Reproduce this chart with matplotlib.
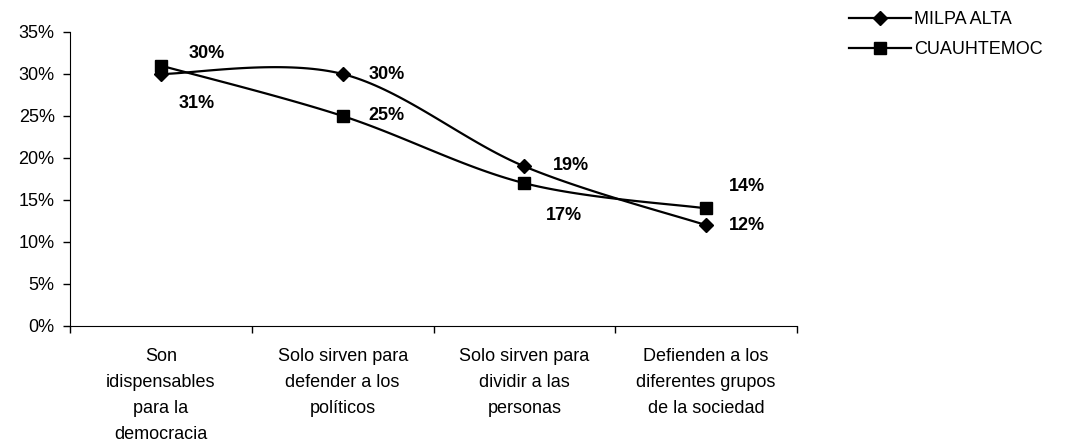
import numpy as np
import matplotlib.pyplot as plt
from matplotlib.lines import Line2D

plt.rcParams["font.family"] = ["Liberation Sans", "DejaVu Sans"]

categorias = ["Son\nidispensables\npara la\ndemocracia",
              "Solo sirven para\ndefender a los\npolíticos",
              "Solo sirven para\ndividir a las\npersonas",
              "Defienden a los\ndiferentes grupos\nde la sociedad"]
milpa_alta = [0.30, 0.30, 0.19, 0.12]
cuauhtemoc = [0.31, 0.25, 0.17, 0.14]
etiq_milpa = ["30%", "30%", "19%", "12%"]
etiq_cuauh = ["31%", "25%", "17%", "14%"]


def suavizar(x, y, n=40):
    # curva tipo Catmull-Rom, como la linea suavizada de Excel
    x = np.asarray(x, float)
    y = np.asarray(y, float)
    px = np.concatenate([[x[0]], x, [x[-1]]])
    py = np.concatenate([[y[0]], y, [y[-1]]])
    xs, ys = [], []
    for i in range(1, len(px) - 2):
        t = np.linspace(0, 1, n)
        for arr, out in ((px, xs), (py, ys)):
            p0, p1, p2, p3 = arr[i - 1], arr[i], arr[i + 1], arr[i + 2]
            out.extend(0.5 * ((2 * p1) + (-p0 + p2) * t
                              + (2 * p0 - 5 * p1 + 4 * p2 - p3) * t ** 2
                              + (-p0 + 3 * p1 - 3 * p2 + p3) * t ** 3))
    return np.array(xs), np.array(ys)


fs = 13
fig = plt.figure(figsize=(10.78, 4.45), dpi=100)
ax = fig.add_axes([70 / 1078, 1 - 326 / 445, 727 / 1078, 294 / 445])

pos = np.arange(len(categorias)) + 0.5

sx, sy = suavizar(pos, milpa_alta)
ax.plot(sx, sy, color="black", lw=1.6)
ax.plot(pos, milpa_alta, "D", color="black", ms=7, ls="none")
sx, sy = suavizar(pos, cuauhtemoc)
ax.plot(sx, sy, color="black", lw=1.6)
ax.plot(pos, cuauhtemoc, "s", color="black", ms=8, ls="none")

off_milpa = [(46, 21), (44, 0), (47, 1), (41, 0)]
off_cuauh = [(36, -38), (44, 1), (40, -32), (41, 22)]
for i in range(len(pos)):
    ax.annotate(etiq_milpa[i], (pos[i], milpa_alta[i]), xytext=off_milpa[i],
                textcoords="offset pixels", ha="center", va="center",
                fontsize=fs, fontweight="bold")
    ax.annotate(etiq_cuauh[i], (pos[i], cuauhtemoc[i]), xytext=off_cuauh[i],
                textcoords="offset pixels", ha="center", va="center",
                fontsize=fs, fontweight="bold")

ax.set_xlim(0, len(categorias))
ax.set_ylim(0, 0.35)
ax.set_yticks(np.arange(0, 0.36, 0.05))
ax.set_yticklabels([f"{int(round(v * 100))}%" for v in np.arange(0, 0.36, 0.05)],
                   fontsize=fs)
ax.set_xticks(np.arange(len(categorias) + 1))
ax.set_xticklabels([])
ax.set_xticks(pos, minor=True)
ax.set_xticklabels(categorias, minor=True, fontsize=fs, linespacing=1.68)
ax.tick_params(axis="x", which="minor", length=0, pad=16)
ax.tick_params(axis="both", which="major", length=5, width=1, direction="out")
ax.tick_params(axis="y", pad=6)
ax.spines["top"].set_visible(False)
ax.spines["right"].set_visible(False)

handles = [Line2D([], [], color="black", lw=1.6, marker="D", ms=7),
           Line2D([], [], color="black", lw=1.6, marker="s", ms=8)]
fig.legend(handles, ["MILPA ALTA", "CUAUHTEMOC"], loc="upper left",
           bbox_to_anchor=(842 / 1078, 1 - 4 / 445), frameon=False,
           fontsize=fs, handlelength=3.4, handletextpad=0.2,
           labelspacing=0.72, borderaxespad=0)

fig.savefig("out.png", dpi=100)
